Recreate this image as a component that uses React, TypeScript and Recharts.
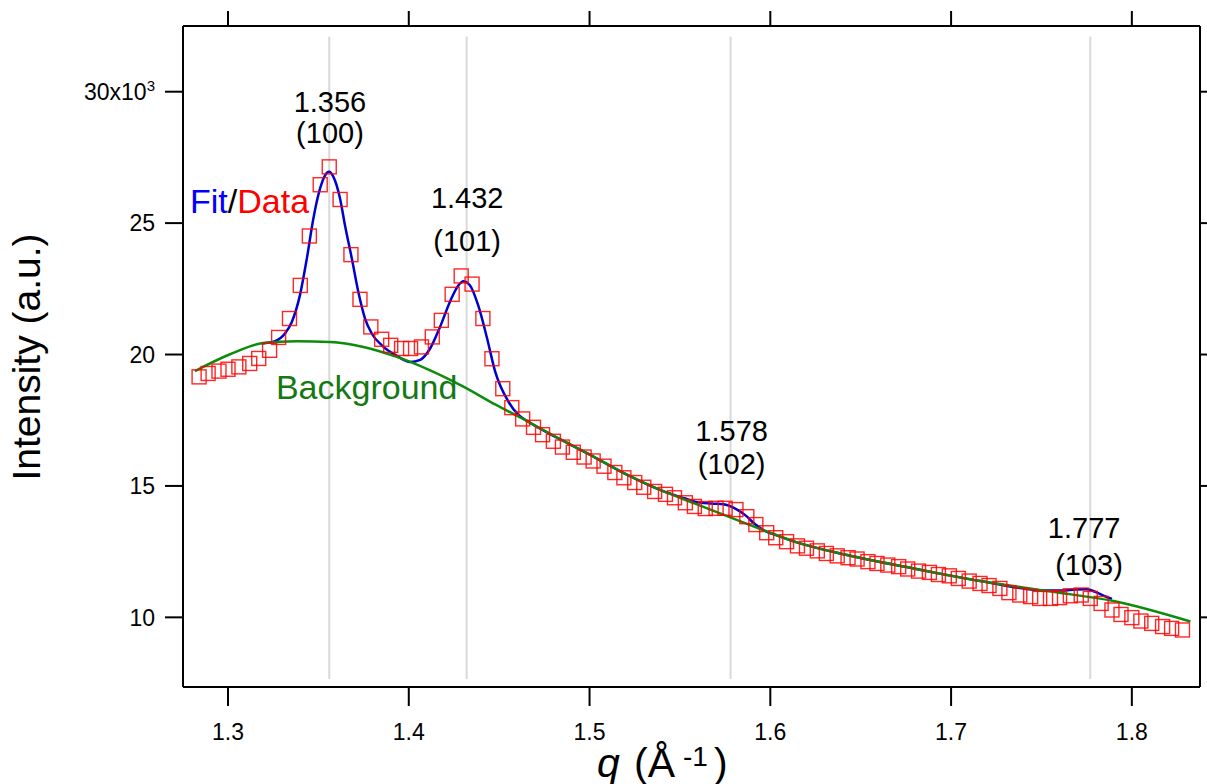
import { ComposedChart, Scatter, Line, XAxis, YAxis, ReferenceLine, ReferenceDot } from 'recharts';

const FONT = '"Liberation Sans", Arial, Helvetica, sans-serif';

// measured data (q in 1/Å, intensity in 10^3 counts)
const dataQ = [
  1.284, 1.289, 1.295, 1.300, 1.306, 1.312, 1.317, 1.323, 1.328, 1.334,
  1.340, 1.345, 1.351, 1.356, 1.362, 1.368, 1.373, 1.379, 1.385, 1.390,
  1.396, 1.401, 1.407, 1.413, 1.418, 1.424, 1.429, 1.435, 1.441, 1.446,
  1.452, 1.457, 1.463, 1.469, 1.474, 1.480, 1.485, 1.491, 1.497, 1.502,
  1.508, 1.514, 1.519, 1.525, 1.530, 1.536, 1.542, 1.547, 1.553, 1.558,
  1.564, 1.570, 1.575, 1.581, 1.587, 1.592, 1.598, 1.603, 1.609, 1.615,
  1.620, 1.626, 1.631, 1.637, 1.643, 1.648, 1.654, 1.659, 1.665, 1.671,
  1.676, 1.682, 1.688, 1.693, 1.699, 1.704, 1.710, 1.716, 1.721, 1.727,
  1.732, 1.738, 1.744, 1.749, 1.755, 1.760, 1.766, 1.772, 1.777, 1.783,
  1.789, 1.794, 1.800, 1.805, 1.811, 1.817, 1.822, 1.828,
];
const dataI = [
  19.15, 19.28, 19.37, 19.44, 19.53, 19.66, 19.85, 20.16, 20.65, 21.37,
  22.63, 24.51, 26.46, 27.14, 25.90, 23.80, 22.10, 21.05, 20.58, 20.35,
  20.23, 20.23, 20.29, 20.67, 21.30, 22.29, 22.99, 22.68, 21.37, 19.84,
  18.70, 17.98, 17.55, 17.23, 16.95, 16.70, 16.48, 16.28, 16.10, 15.95,
  15.75, 15.51, 15.31, 15.13, 14.95, 14.79, 14.68, 14.55, 14.36, 14.22,
  14.14, 14.15, 14.15, 14.10, 13.83, 13.53, 13.22, 13.03, 12.88, 12.72,
  12.63, 12.53, 12.43, 12.34, 12.27, 12.22, 12.12, 12.05, 11.99, 11.93,
  11.84, 11.76, 11.71, 11.63, 11.58, 11.48, 11.38, 11.29, 11.21, 11.10,
  10.94, 10.85, 10.79, 10.72, 10.72, 10.75, 10.82, 10.85, 10.72, 10.53,
  10.28, 10.11, 9.99, 9.86, 9.77, 9.65, 9.58, 9.52,
];

// fit curve
const fitQ = [
  1.3186, 1.3260, 1.3315, 1.3353, 1.3398, 1.3436, 1.3472, 1.3509, 1.3537, 1.3559,
  1.3583, 1.3620, 1.3647, 1.3685, 1.3721, 1.3758, 1.3795, 1.3851, 1.3934, 1.4007,
  1.4063, 1.4118, 1.4173, 1.4229, 1.4274, 1.4302, 1.4339, 1.4385, 1.4432, 1.4478,
  1.4551, 1.4607, 1.4662, 1.4847, 1.5031, 1.5215, 1.5400, 1.5530, 1.5584, 1.5677,
  1.5741, 1.5806, 1.5861, 1.5916, 1.5972, 1.6027, 1.6138, 1.6424, 1.6793, 1.7162,
  1.7531, 1.7614, 1.7687, 1.7752, 1.7798, 1.7853, 1.7890,
];
const fitI = [
  20.42, 20.51, 20.80, 21.24, 22.26, 23.65, 25.17, 26.31, 26.82, 26.95,
  26.76, 25.93, 24.92, 23.65, 22.38, 21.37, 20.80, 20.35, 19.95, 19.72,
  19.80, 20.23, 21.05, 22.03, 22.63, 22.79, 22.63, 21.85, 20.65, 19.35,
  18.21, 17.70, 17.44, 16.74, 16.08, 15.40, 14.82, 14.52, 14.40, 14.33,
  14.30, 14.14, 13.89, 13.54, 13.28, 13.14, 12.87, 12.37, 11.86, 11.38,
  11.02, 11.02, 11.06, 11.07, 10.97, 10.80, 10.70,
];

// background curve
const bgQ = [
  1.2817, 1.3011, 1.3195, 1.3380, 1.3564, 1.3749, 1.3934, 1.4118, 1.4302, 1.4478,
  1.4662, 1.4847, 1.5031, 1.5215, 1.5400, 1.5584, 1.5769, 1.5953, 1.6138, 1.6424,
  1.6793, 1.7162, 1.7531, 1.7899, 1.8324,
];
const bgI = [
  19.37, 20.01, 20.44, 20.51, 20.48, 20.29, 19.91, 19.40, 18.78, 18.10,
  17.44, 16.74, 16.08, 15.40, 14.82, 14.33, 13.83, 13.34, 12.87, 12.37,
  11.86, 11.38, 11.00, 10.62, 9.84,
];

const xTicks = [1.3, 1.4, 1.5, 1.6, 1.7, 1.8];
const yTicks = [10, 15, 20, 25, 30];

const peakQ = [1.356, 1.432, 1.578, 1.777];
const peakPos = ['1.356', '1.432', '1.578', '1.777'];
const peakHkl = ['(100)', '(101)', '(102)', '(103)'];

// where the peak labels sit (text baselines, in axis units)
const labelQ = [1.3564, 1.4323, 1.5786, 1.7736];
const hklQ = [1.3564, 1.4323, 1.5786, 1.7763];
const labelI = [29.21, 25.59, 16.70, 13.02];
const hklI = [28.06, 23.94, 15.45, 11.62];

const zip = (qs: number[], is: number[]) => qs.map((q, i) => ({ q, I: is[i] }));
const dataPts = zip(dataQ, dataI);
const fitPts = zip(fitQ, fitI);
const bgPts = zip(bgQ, bgI);

const RED = '#ff0000';
const BLUE = '#0000d0';
const GREEN = '#0b8c0b';

const Square = (props: any) => {
  const { cx, cy } = props;
  if (cx == null || cy == null) return null;
  return (
    <rect
      x={cx - 7}
      y={cy - 7}
      width={14}
      height={14}
      fill="none"
      stroke={RED}
      strokeWidth={1.4}
      strokeOpacity={0.85}
    />
  );
};

const YTick = (props: any) => {
  const { x, y, payload } = props;
  if (payload.value === 30) {
    return (
      <text x={x} y={y} dy="0.355em" textAnchor="end" fontSize={23} fontFamily={FONT} fill="#000">
        30x10<tspan fontSize={15} dy={-9}>3</tspan>
      </text>
    );
  }
  return (
    <text x={x} y={y} dy="0.355em" textAnchor="end" fontSize={23} fontFamily={FONT} fill="#000">
      {payload.value}
    </text>
  );
};

const blank = () => '';

const textAt = (label: string, size: number, anchor: 'start' | 'middle', color = '#000') => (p: any) => (
  <text x={p.cx} y={p.cy} textAnchor={anchor} fontSize={size} fontFamily={FONT} fill={color}>
    {label}
  </text>
);

export default function App() {
  return (
    <div style={{ position: 'absolute', left: 0, top: 0, width: 1207, height: 784, overflow: 'hidden', background: '#fff' }}>
      <ComposedChart width={1207} height={784} margin={{ top: 10, right: 6, bottom: 37, left: 83 }}>
        <XAxis
          dataKey="q"
          type="number"
          domain={[1.2751, 1.8377]}
          ticks={xTicks}
          allowDataOverflow
          height={60}
          axisLine={{ stroke: '#000', strokeWidth: 2 }}
          tickLine={{ stroke: '#000', strokeWidth: 2 }}
          tickSize={19}
          tickMargin={18}
          tick={{ fontSize: 23, fill: '#000', fontFamily: FONT }}
          label={() => (
            <text y={777} fontSize={41} fontFamily={FONT} fill="#000">
              <tspan x={597} fontStyle="italic">q</tspan>
              <tspan x={634}>(Å</tspan>
              <tspan x={683} fontSize={28} dy={-11}>-1</tspan>
              <tspan x={714} dy={11}>)</tspan>
            </text>
          )}
        />
        <XAxis
          xAxisId="top"
          orientation="top"
          type="number"
          dataKey="q"
          domain={[1.2751, 1.8377]}
          ticks={xTicks}
          interval={0}
          allowDataOverflow
          height={16}
          axisLine={{ stroke: '#000', strokeWidth: 2 }}
          tickLine={{ stroke: '#000', strokeWidth: 2 }}
          tickSize={15}
          tickMargin={0}
          tickFormatter={blank}
        />
        <YAxis
          dataKey="I"
          type="number"
          domain={[7.35, 32.5]}
          ticks={yTicks}
          allowDataOverflow
          width={100}
          axisLine={{ stroke: '#000', strokeWidth: 2 }}
          tickLine={{ stroke: '#000', strokeWidth: 2 }}
          tickSize={18}
          tickMargin={10}
          tick={<YTick />}
          label={() => (
            <text
              x={40}
              y={357}
              transform="rotate(-90 40 357)"
              textAnchor="middle"
              fontSize={39}
              fontFamily={FONT}
              fill="#000"
            >
              Intensity (a.u.)
            </text>
          )}
        />
        <YAxis
          yAxisId="right"
          orientation="right"
          type="number"
          domain={[7.35, 32.5]}
          ticks={yTicks}
          allowDataOverflow
          width={1}
          axisLine={{ stroke: '#000', strokeWidth: 2 }}
          tickLine={{ stroke: '#000', strokeWidth: 2 }}
          tickSize={10}
          tickFormatter={blank}
        />

        {peakQ.map((q) => (
          <ReferenceLine
            key={`ref-${q}`}
            segment={[{ x: q, y: 32.1 }, { x: q, y: 7.65 }]}
            stroke="#d9d9d9"
            strokeWidth={2}
          />
        ))}

        <Scatter data={dataPts} shape={<Square />} isAnimationActive={false} />
        <Line data={fitPts} dataKey="I" type="monotone" stroke={BLUE} strokeWidth={2.5} dot={false} isAnimationActive={false} />
        <Line data={bgPts} dataKey="I" type="monotone" stroke={GREEN} strokeWidth={2.5} dot={false} isAnimationActive={false} />

        {peakPos.map((label, i) => (
          <ReferenceDot key={`pos-${i}`} x={labelQ[i]} y={labelI[i]} r={1} ifOverflow="visible" shape={textAt(label, 29, 'middle')} />
        ))}
        {peakHkl.map((label, i) => (
          <ReferenceDot key={`hkl-${i}`} x={hklQ[i]} y={hklI[i]} r={1} ifOverflow="visible" shape={textAt(label, 29, 'middle')} />
        ))}

        <ReferenceDot
          x={1.279}
          y={25.37}
          r={1}
          ifOverflow="visible"
          shape={(p: any) => (
            <text x={p.cx} y={p.cy} fontSize={34} fontFamily={FONT}>
              <tspan fill="#0000ff">Fit</tspan>
              <tspan fill="#000">/</tspan>
              <tspan fill={RED}>Data</tspan>
            </text>
          )}
        />
        <ReferenceDot x={1.3265} y={18.29} r={1} ifOverflow="visible" shape={textAt('Background', 34, 'start', '#137a13')} />
      </ComposedChart>
    </div>
  );
}
